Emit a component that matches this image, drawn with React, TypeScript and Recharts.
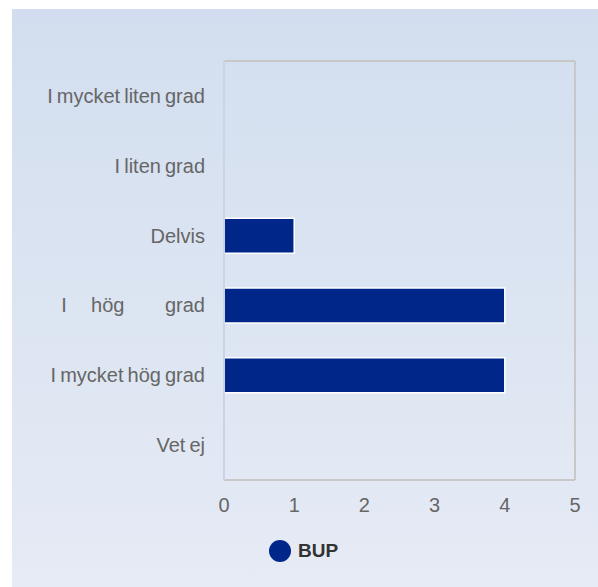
import { BarChart, Bar, XAxis, YAxis, CartesianGrid } from 'recharts';

const categories = [
  'I mycket liten grad',
  'I liten grad',
  'Delvis',
  'I hög grad',
  'I mycket hög grad',
  'Vet ej',
];
// tick text as it appears in the picture (one label is spread out)
const tickLabels = [
  'I mycket liten grad',
  'I liten grad',
  'Delvis',
  'I      hög          grad',
  'I mycket hög grad',
  'Vet ej',
];
const bupValues = [0, 0, 1, 4, 4, 0];
const xTicks = [0, 1, 2, 3, 4, 5];
const seriesName = 'BUP';

const data = categories.map((c, i) => ({ category: c, BUP: bupValues[i] }));

const barColor = '#00268a';
const font = '"Liberation Sans", Arial, sans-serif';

const YTick = (props: any) => {
  const { x, y, payload } = props;
  const label = tickLabels[categories.indexOf(payload.value)] ?? payload.value;
  return (
    <text
      x={x}
      y={y}
      dy="0.35em"
      textAnchor="end"
      fill="#666"
      fontSize={20}
      fontFamily={font}
      style={{ whiteSpace: 'pre', wordSpacing: -1.5 }}
    >
      {label}
    </text>
  );
};

export default function App() {
  return (
    <div style={{ position: 'absolute', left: 0, top: 0, width: 598, height: 587, background: '#fff' }}>
      <div
        style={{
          position: 'absolute',
          left: 12,
          top: 9,
          width: 586,
          height: 578,
          background: 'linear-gradient(to bottom, #d2deef 0%, #e6ebf5 100%)',
        }}
      >
        <BarChart
          width={586}
          height={578}
          data={data}
          layout="vertical"
          margin={{ top: 51, right: 22, left: 0, bottom: 77 }}
          barCategoryGap="25%"
        >
          <CartesianGrid horizontal={false} stroke="#e2e3e8" strokeWidth={2} />
          <XAxis
            xAxisId="bottom"
            type="number"
            domain={[0, 5]}
            ticks={xTicks}
            height={30}
            tickLine={false}
            tickSize={0}
            tickMargin={18}
            axisLine={{ stroke: '#c8c8c8', strokeWidth: 2 }}
            tick={{ fill: '#666', fontSize: 20, fontFamily: font }}
          />
          <XAxis
            xAxisId="top"
            orientation="top"
            type="number"
            domain={[0, 5]}
            ticks={xTicks}
            tick={false}
            tickLine={false}
            height={1}
            axisLine={{ stroke: '#c8c8c8', strokeWidth: 2 }}
          />
          <YAxis
            yAxisId="left"
            type="category"
            dataKey="category"
            width={212}
            tickLine={false}
            tickSize={0}
            tickMargin={19}
            axisLine={{ stroke: '#c9d3ea', strokeWidth: 2 }}
            tick={<YTick />}
          />
          <YAxis
            yAxisId="right"
            orientation="right"
            type="category"
            dataKey="category"
            width={1}
            tick={false}
            tickLine={false}
            axisLine={{ stroke: '#c8c8c8', strokeWidth: 2 }}
          />
          <Bar
            dataKey="BUP"
            name={seriesName}
            xAxisId="bottom"
            yAxisId="left"
            fill={barColor}
            stroke="#ffffff"
            strokeWidth={1.5}
            isAnimationActive={false}
          />
        </BarChart>
        <div
          style={{
            position: 'absolute',
            left: 257,
            top: 531,
            display: 'flex',
            alignItems: 'center',
            fontFamily: font,
          }}
        >
          <svg width={22} height={22}>
            <circle cx={11} cy={11} r={11} fill={barColor} />
          </svg>
          <span style={{ marginLeft: 7, fontWeight: 'bold', fontSize: 19, color: '#333' }}>
            {seriesName}
          </span>
        </div>
      </div>
    </div>
  );
}
